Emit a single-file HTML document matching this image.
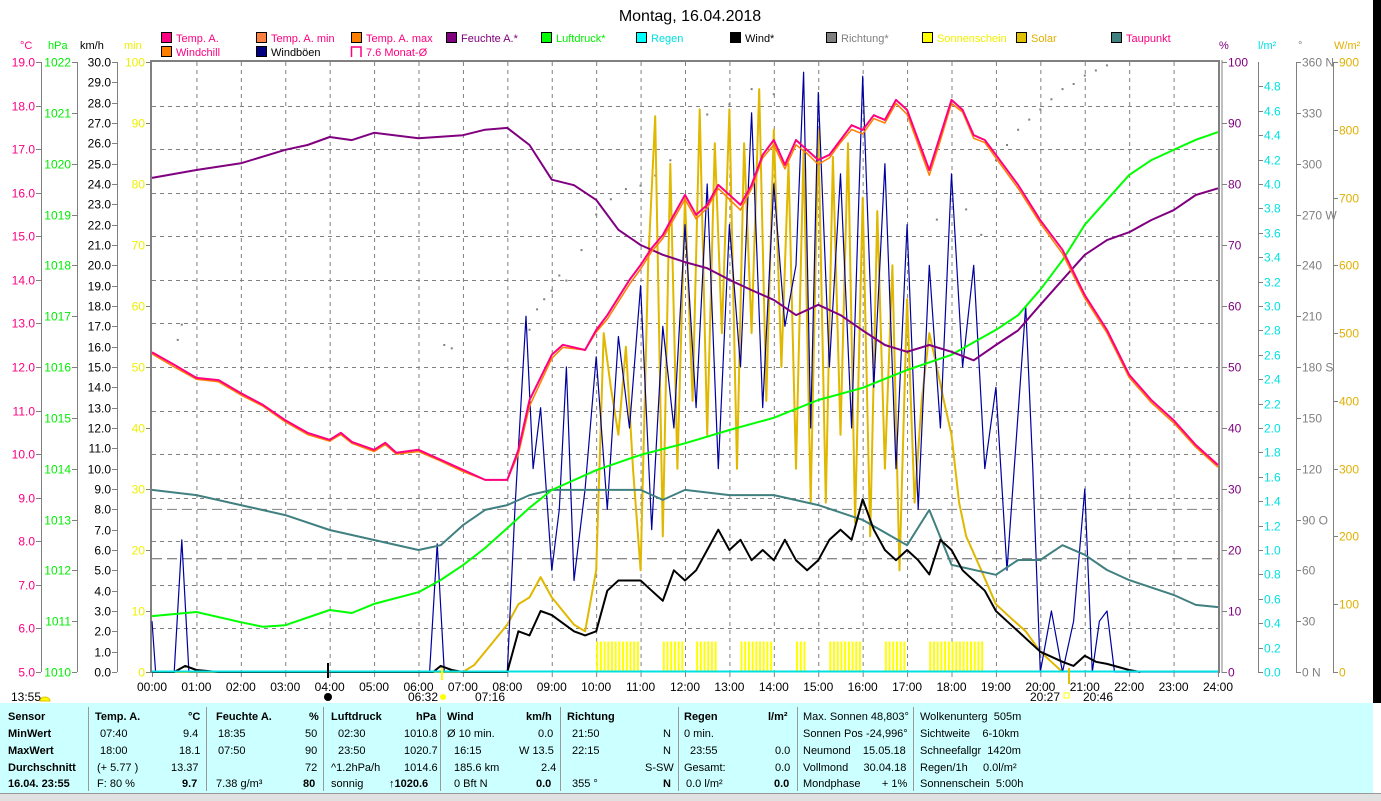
<!DOCTYPE html>
<html><head><meta charset="utf-8"><title>Montag, 16.04.2018</title>
<style>
html,body{margin:0;padding:0;background:#fff;}
body{width:1381px;height:800px;overflow:hidden;position:relative;font-family:"Liberation Sans",sans-serif;}
svg{position:absolute;left:0;top:0;}
#panel{position:absolute;left:0;top:703px;width:1373px;height:90px;background:#ccffff;font-size:11px;color:#000;}
#panel div{position:absolute;white-space:nowrap;}
.b{font-weight:bold;}
.sep{width:1px;background:#999;top:4px;height:84px;}
#bottomstrip{position:absolute;left:0;top:793px;width:1381px;height:7px;background:#e0e0e0;border-top:1px solid #999;}
#rbar{position:absolute;left:1373px;top:0;width:8px;height:703px;background:#000;}
</style></head>
<body>
<svg id="chart" width="1381" height="703" font-family="Liberation Sans, sans-serif" font-size="12"></svg>
<div id="rbar"></div>
<div id="panel">
 <div class="b" style="left:8px;top:8px">Sensor</div>
 <div class="b" style="left:8px;top:25px">MinWert</div>
 <div class="b" style="left:8px;top:42px">MaxWert</div>
 <div class="b" style="left:8px;top:59px">Durchschnitt</div>
 <div class="b" style="left:8px;top:75px">16.04. 23:55</div>
 <div class="sep" style="left:88px"></div>
 <div class="b" style="left:95px;top:8px">Temp. A.</div>
 <div class="b" style="left:188px;top:8px">°C</div>
 <div style="left:100px;top:25px">07:40</div><div style="left:183px;top:25px">9.4</div>
 <div style="left:100px;top:42px">18:00</div><div style="left:179px;top:42px">18.1</div>
 <div style="left:97px;top:59px">(+ 5.77 )</div><div style="left:171px;top:59px">13.37</div>
 <div style="left:97px;top:75px">F: 80 %</div><div class="b" style="left:182px;top:75px">9.7</div>
 <div class="sep" style="left:206px"></div>
 <div class="b" style="left:216px;top:8px">Feuchte A.</div>
 <div class="b" style="left:309px;top:8px">%</div>
 <div style="left:218px;top:25px">18:35</div><div style="left:305px;top:25px">50</div>
 <div style="left:218px;top:42px">07:50</div><div style="left:305px;top:42px">90</div>
 <div style="left:305px;top:59px">72</div>
 <div style="left:216px;top:75px">7.38 g/m³</div><div class="b" style="left:303px;top:75px">80</div>
 <div class="sep" style="left:323px"></div>
 <div class="b" style="left:331px;top:8px">Luftdruck</div>
 <div class="b" style="left:416px;top:8px">hPa</div>
 <div style="left:338px;top:25px">02:30</div><div style="left:404px;top:25px">1010.8</div>
 <div style="left:338px;top:42px">23:50</div><div style="left:404px;top:42px">1020.7</div>
 <div style="left:331px;top:59px">^1.2hPa/h</div><div style="left:404px;top:59px">1014.6</div>
 <div style="left:331px;top:75px">sonnig</div><div class="b" style="left:389px;top:75px">&#8593;1020.6</div>
 <div class="sep" style="left:440px"></div>
 <div class="b" style="left:447px;top:8px">Wind</div>
 <div class="b" style="left:526px;top:8px">km/h</div>
 <div style="left:447px;top:25px">Ø 10 min.</div><div style="left:538px;top:25px">0.0</div>
 <div style="left:454px;top:42px">16:15</div><div style="left:519px;top:42px">W 13.5</div>
 <div style="left:454px;top:59px">185.6 km</div><div style="left:541px;top:59px">2.4</div>
 <div style="left:454px;top:75px">0 Bft N</div><div class="b" style="left:536px;top:75px">0.0</div>
 <div class="sep" style="left:560px"></div>
 <div class="b" style="left:567px;top:8px">Richtung</div>
 <div style="left:572px;top:25px">21:50</div><div style="left:663px;top:25px">N</div>
 <div style="left:572px;top:42px">22:15</div><div style="left:663px;top:42px">N</div>
 <div style="left:645px;top:59px">S-SW</div>
 <div style="left:572px;top:75px">355 °</div><div class="b" style="left:663px;top:75px">N</div>
 <div class="sep" style="left:678px"></div>
 <div class="b" style="left:684px;top:8px">Regen</div>
 <div class="b" style="left:768px;top:8px">l/m²</div>
 <div style="left:684px;top:25px">0 min.</div>
 <div style="left:690px;top:42px">23:55</div><div style="left:775px;top:42px">0.0</div>
 <div style="left:684px;top:59px">Gesamt:</div><div style="left:775px;top:59px">0.0</div>
 <div style="left:686px;top:75px">0.0 l/m²</div><div class="b" style="left:774px;top:75px">0.0</div>
 <div class="sep" style="left:797px"></div>
 <div style="left:803px;top:8px">Max. Sonnen 48,803°</div>
 <div style="left:803px;top:25px">Sonnen Pos -24,996°</div>
 <div style="left:803px;top:42px">Neumond &nbsp;&nbsp;&nbsp;15.05.18</div>
 <div style="left:803px;top:59px">Vollmond &nbsp;&nbsp;&nbsp;&nbsp;30.04.18</div>
 <div style="left:803px;top:75px">Mondphase &nbsp;&nbsp;&nbsp;&nbsp;&nbsp;&nbsp;+ 1%</div>
 <div class="sep" style="left:913px"></div>
 <div style="left:920px;top:8px">Wolkenunterg &nbsp;505m</div>
 <div style="left:920px;top:25px">Sichtweite &nbsp;&nbsp;&nbsp;6-10km</div>
 <div style="left:920px;top:42px">Schneefallgr &nbsp;1420m</div>
 <div style="left:920px;top:59px">Regen/1h &nbsp;&nbsp;&nbsp;&nbsp;0.0l/m²</div>
 <div style="left:920px;top:75px">Sonnenschein &nbsp;5:00h</div>
</div>
<div id="bottomstrip"></div>
<script>
// ---- data ----
const tempTimes=[0,0.5,1,1.5,2,2.5,3,3.5,4,4.25,4.5,5,5.25,5.5,6,6.5,7,7.5,8,8.25,8.5,9,9.25,9.75,10,10.25,10.75,11,11.25,11.5,11.75,12,12.25,12.5,12.75,13,13.25,13.5,13.75,14,14.25,14.5,14.75,15,15.25,15.5,15.75,16,16.25,16.5,16.75,17,17.25,17.5,17.75,18,18.25,18.5,18.75,19,19.5,20,20.5,21,21.5,22,22.5,23,23.5,24];
const tempVals=[12.34,12.05,11.75,11.70,11.40,11.13,10.78,10.49,10.33,10.49,10.28,10.10,10.26,10.03,10.10,9.87,9.64,9.41,9.41,10.10,11.24,12.28,12.51,12.39,12.85,13.19,14.0,14.34,14.73,15.03,15.49,15.95,15.49,15.72,16.18,15.95,15.72,16.18,16.87,17.21,16.64,17.21,16.98,16.75,16.87,17.21,17.55,17.44,17.78,17.67,18.13,17.90,17.21,16.52,17.32,18.13,17.90,17.32,17.21,16.87,16.18,15.37,14.69,13.65,12.85,11.82,11.24,10.78,10.21,9.75];
const chillVals=[12.30,12.00,11.72,11.66,11.36,11.10,10.74,10.45,10.30,10.45,10.25,10.06,10.22,10.00,10.06,9.84,9.60,9.41,9.41,10.00,11.10,12.20,12.45,12.39,12.80,13.10,13.90,14.25,14.65,14.95,15.40,15.85,15.40,15.65,16.10,15.85,15.60,16.10,16.80,17.10,16.55,17.10,16.90,16.65,16.80,17.15,17.45,17.35,17.70,17.60,18.05,17.80,17.10,16.40,17.20,18.05,17.85,17.25,17.15,16.80,16.10,15.30,14.60,13.58,12.78,11.76,11.18,10.72,10.16,9.70];
const dewTimes=[0,1,2,3,4,5,6,6.5,7,7.5,8,8.5,9,10,11,11.5,12,13,14,15,16,17,17.5,18,19,19.5,20,20.5,21,21.5,22,23,23.5,24];
const dewVals=[9.18,9.06,8.83,8.6,8.26,8.03,7.8,7.91,8.37,8.72,8.83,9.06,9.18,9.18,9.18,8.95,9.18,9.06,9.06,8.83,8.49,7.91,8.72,7.46,7.23,7.57,7.57,7.91,7.69,7.34,7.11,6.77,6.54,6.49];
const humTimes=[0,1,2,3,3.5,4,4.5,5,6,7,7.5,8,8.5,9,9.5,10,10.5,11,11.5,12,12.5,13,13.5,14,14.5,15,15.5,16,16.5,17,17.5,18,18.5,19,19.5,20,20.5,21,21.5,22,22.5,23,23.5,24];
const humVals=[81,82.3,83.4,85.6,86.4,87.7,87.2,88.4,87.5,88,88.9,89.2,86.4,80.7,79.8,77.4,72.5,70,68.4,67.2,66.2,64.3,62.6,61,58.5,60.2,58.5,56,53.6,52.5,53.6,52.5,51.1,53.6,56,60.2,64.3,68.4,70.8,72.1,74.1,75.7,78.2,79.3];
const presTimes=[0,1,2,2.5,3,4,4.5,5,6,6.5,7,7.5,8,8.5,9,10,11,12,13,14,15,16,17,18,19,19.5,20,20.5,21,21.5,22,22.5,23,23.5,24];
const presVals=[1011.1,1011.18,1010.98,1010.89,1010.92,1011.22,1011.16,1011.34,1011.57,1011.81,1012.1,1012.44,1012.83,1013.23,1013.58,1013.97,1014.27,1014.5,1014.76,1015.0,1015.35,1015.59,1015.94,1016.24,1016.73,1017.02,1017.52,1018.1,1018.8,1019.29,1019.78,1020.07,1020.27,1020.47,1020.62];
const windTimes=[0,0.5,0.75,1,1.5,6.33,6.5,6.75,7,8,8.25,8.5,8.75,9,9.5,9.75,10,10.25,10.5,11,11.25,11.5,11.75,12,12.25,12.5,12.75,13,13.25,13.5,13.75,14,14.25,14.5,14.75,15,15.25,15.5,15.75,16,16.25,16.5,16.75,17,17.25,17.5,17.75,18,18.25,18.5,18.75,19,19.25,19.5,20,20.5,20.75,21,21.25,21.5,22,22.25];
const windVals=[0,0,0.3,0.1,0,0,0.3,0.1,0,0,2.0,1.8,3.0,2.8,2.0,1.8,2.0,4.0,4.5,4.5,4.0,3.5,5.0,4.5,5.0,6.0,7.0,6.0,6.5,5.5,6.0,5.5,6.5,5.5,5.0,5.5,6.5,7.0,6.5,8.5,7.0,6.0,5.5,6.0,5.5,4.8,6.5,6.0,5.0,4.5,4.0,3.0,2.5,2.0,1.0,0.5,0.3,0.8,0.5,0.4,0.1,0];
const gustTimes=[0,0.08,0.5,0.67,0.83,6.25,6.42,6.58,8.0,8.17,8.42,8.58,8.75,9.0,9.17,9.33,9.5,9.75,10.0,10.25,10.5,10.75,11.0,11.25,11.5,11.75,12.0,12.25,12.5,12.75,13.0,13.25,13.5,13.75,14.0,14.25,14.5,14.67,14.83,15.0,15.25,15.5,15.75,16.0,16.25,16.5,16.75,17.0,17.25,17.5,17.75,18.0,18.25,18.5,18.75,19.0,19.25,19.67,19.83,20.0,20.25,20.5,20.75,21.0,21.17,21.33,21.5,21.67,24];
const gustVals=[2.5,0,0,6.5,0,0,6.3,0,0,8,17.5,10,13,5,8,15,4.5,9,15.5,8,16.5,12,19,7,17,12,22,13,24,10,22,15,27.5,13,24,17,20,29.5,12,28.5,15,24.5,12,29.3,14,25,10,22,8,20,12,24.5,15,20,10,14,5,18,10,0,3,0,2.5,9,0,2.5,3,0,0];
const solarTimes=[0,7,7.25,7.5,8,8.25,8.5,8.75,9,9.5,9.75,10,10.17,10.33,10.5,10.67,10.83,11,11.17,11.33,11.5,11.67,11.83,12,12.17,12.33,12.5,12.67,12.83,13,13.17,13.33,13.5,13.67,13.83,14,14.17,14.33,14.5,14.67,14.83,15,15.17,15.33,15.5,15.67,15.83,16,16.17,16.33,16.5,16.67,16.83,17,17.17,17.33,17.5,17.67,17.83,18,18.17,18.33,18.67,19,19.33,19.67,20,20.33,20.5];
const solarVals=[0,0,10,30,70,100,110,140,110,70,60,150,500,420,350,480,300,150,600,820,200,750,300,700,400,830,350,780,500,830,300,780,500,860,400,800,450,750,300,770,250,800,250,760,350,780,220,700,200,680,300,600,150,550,250,400,500,450,400,350,250,200,150,100,80,60,30,10,0];
const sunStart=[10.0,11.5,12.25,13.25,14.5,15.25,16.5,17.5];
const sunEnd=[11.0,12.0,12.75,14.0,14.75,16.0,17.0,18.75];
const dirTimes=[0.58,0.67,6.58,6.75,8.5,8.67,8.83,9.0,9.17,9.33,9.67,10.0,10.33,10.67,11.0,11.33,11.67,12.0,12.5,13.0,13.5,14.0,17.67,18.0,18.33,18.67,19.0,19.25,19.5,19.75,20.0,20.25,20.5,20.75,21.0,21.25,21.5];
const dirVals=[196,205,193,191,202,214,220,225,234,231,249,270,279,285,287,293,302,314,329,335,344,341,267,282,273,258,302,311,320,326,332,338,344,347,352,355,358];
const degC=[5,6,7,8,9,10,11,12,13,14,15,16,17,18,19];
const hpaTicks=[1010,1011,1012,1013,1014,1015,1016,1017,1018,1019,1020,1021,1022];
const pctTicks=[0,10,20,30,40,50,60,70,80,90,100];
const degTicks=["0 N","30","60","90 O","120","150","180 S","210","240","270 W","300","330","360 N"];
const hourLabels=["00:00","01:00","02:00","03:00","04:00","05:00","06:00","07:00","08:00","09:00","10:00","11:00","12:00","13:00","14:00","15:00","16:00","17:00","18:00","19:00","20:00","21:00","22:00","23:00","24:00"];
const monthAvg=7.6, presAvgLine=1013.2;

// ---- scales ----
const X0=152,X1=1218,Y0=672,YT=62;
const X=h=>X0+h*(X1-X0)/24;
const yT=t=>Y0-(t-5)*(Y0-YT)/14;
const yP=p=>Y0-(p-1010)*(Y0-YT)/12;
const yK=v=>Y0-v*(Y0-YT)/30;
const yH=v=>Y0-v*(Y0-YT)/100;
const yR=v=>Y0-v*(Y0-YT)/5;
const yS=v=>Y0-v*(Y0-YT)/900;
const yD=v=>Y0-v*(Y0-YT)/360;

const svg=document.getElementById('chart');
const NS='http://www.w3.org/2000/svg';
function mk(tag,attrs,parent){const e=document.createElementNS(NS,tag);for(const k in attrs)e.setAttribute(k,attrs[k]);(parent||svg).appendChild(e);return e;}
function txt(x,y,s,fill,anchor,parent,size){const e=mk('text',{x:x,y:y,fill:fill,'text-anchor':anchor||'start','font-size':size||12},parent);e.textContent=s;return e;}

// title
let t=txt(690,21,'Montag, 16.04.2018','#000','middle',svg,16);



// legend
const legItems=[
 [161,38,'#ff0080','#ff0080','Temp. A.'],[256,38,'#ff8040','#ff0080','Temp. A. min'],[351,38,'#ff8000','#ff0080','Temp. A. max'],
 [446,38,'#800080','#800080','Feuchte A.*'],[541,38,'#00ff00','#00ee00','Luftdruck*'],[636,38,'#00ffff','#00e0e0','Regen'],
 [730,38,'#000000','#000','Wind*'],[826,38,'#808080','#808080','Richtung*'],[922,38,'#ffff00','#f0f000','Sonnenschein'],
 [1016,38,'#e0c000','#e0b000','Solar'],[1111,38,'#408080','#ff0080','Taupunkt'],
 [161,52,'#ff8000','#ff0080','Windchill'],[256,52,'#000080','#000','Windböen'],[351,52,'none','#ff0080','7.6 Monat-Ø']];
legItems.forEach(it=>{
 const g=mk('g',{});
 
 
 if(it[2]==='none') mk('path',{d:`M${it[0]+0.5} ${it[1]+5} V${it[1]-5} H${it[0]+10} V${it[1]+5}`,stroke:'#ff0080','stroke-width':1.5,fill:'none'},g);
 else mk('rect',{x:it[0]+0.5,y:it[1]-5.5,width:10,height:10,fill:it[2],stroke:'#000','stroke-width':1},g);
 txt(it[0]+15,it[1]+4,it[4],it[3],'start',g,11);
});

// unit headers
[[20,'°C','#ff0080'],[48,'hPa','#00ee00'],[80,'km/h','#000'],[124,'min','#f0f000'],[1219,'%','#800080'],[1258,'l/m²','#00e0e0'],[1298,'°','#808080'],[1334,'W/m²','#e0b000']].forEach(u=>{
 const e=txt(u[0],49,u[1],u[2],'start',svg,11);
 
 
});

// grid
const grid=mk('g',{stroke:'#808080','stroke-width':1,'stroke-dasharray':'4,4'});


for(let h=1;h<24;h++) mk('line',{x1:X(h)+0.5,x2:X(h)+0.5,y1:YT,y2:Y0},grid);
degC.forEach(c=>{if(c>5&&c<19) mk('line',{x1:X0,x2:X1,y1:Math.round(yT(c))+0.5,y2:Math.round(yT(c))+0.5},grid);});

// average lines
let l=mk('line',{x1:X0,x2:X1,y1:yP(presAvgLine),y2:yP(presAvgLine),stroke:'#808080','stroke-dasharray':'10,5'});


l=mk('line',{x1:X0,x2:X1,y1:yT(monthAvg),y2:yT(monthAvg),stroke:'#606060','stroke-dasharray':'10,5'});



// axes
function vaxis(x,ticks,yf,fmt,color,name,lab,side){
 const g=mk('g',{});
 
 
 mk('line',{x1:x+0.5,x2:x+0.5,y1:YT,y2:Y0,stroke:'#808080'},g);
 ticks.forEach((v,i)=>{
  const y=Math.round(yf(v))+0.5;
  mk('line',{x1:side<0?x-5:x,x2:side<0?x:x+5,y1:y,y2:y,stroke:'#808080'},g);
  txt(side<0?x-6:x+6,y+4,fmt(v,i),color,side<0?'end':'start',g);
 });
}
vaxis(41,degC,yT,v=>v.toFixed(1),'#ff0080','celsius-axis',0,-1);
vaxis(77,hpaTicks,yP,v=>String(v),'#00ee00','pressure-axis',0,-1);
const kmh=[];for(let i=0;i<=30;i++)kmh.push(i);
vaxis(117,kmh,yK,v=>v.toFixed(1),'#000','wind-speed-axis',0,-1);
const mins=[0,10,20,30,40,50,60,70,80,90,100];
(function(){const g=mk('g',{});
 mins.forEach(v=>{const y=Math.round(yH(v))+0.5;mk('line',{x1:146,x2:151,y1:y,y2:y,stroke:'#808080'},g);txt(145,y+4,String(v),'#f0f000','end',g);});})();
(function(){const g=mk('g',{});
 pctTicks.forEach(v=>{const y=Math.round(yH(v))+0.5;mk('line',{x1:1222,x2:1227,y1:y,y2:y,stroke:'#808080'},g);txt(1228,y+4,String(v),'#800080','start',g);});})();
const rainT=[];for(let i=0;i<=24;i++)rainT.push(i/5);
vaxis(1258,rainT,yR,v=>v.toFixed(1),'#00e0e0','rain-axis',0,1);
const dirT=[0,30,60,90,120,150,180,210,240,270,300,330,360];
vaxis(1296,dirT,yD,(v,i)=>degTicks[i],'#808080','direction-axis',0,1);
const solT=[0,100,200,300,400,500,600,700,800,900];
vaxis(1333,solT,yS,v=>String(v),'#e0b000','solar-axis',0,1);

// plot frame
mk('line',{x1:X0-1,x2:X0-1,y1:YT-1,y2:Y0+1,stroke:'#808080','stroke-width':2});
mk('line',{x1:X0-2,x2:X1+2,y1:YT-1,y2:YT-1,stroke:'#808080','stroke-width':2});
mk('line',{x1:X1+1,x2:X1+1,y1:YT-2,y2:Y0+1,stroke:'#808080','stroke-width':2});
mk('line',{x1:X1+4,x2:X1+4,y1:YT-2,y2:Y0+1,stroke:'#808080','stroke-width':1});

// x labels
hourLabels.forEach((s,i)=>{
 mk('line',{x1:X(i)+0.5,x2:X(i)+0.5,y1:Y0,y2:Y0+5,stroke:'#808080'});
 const e=txt(X(i),691,s,'#000','middle');
 
 
});

function poly(times,vals,yf,color,w,name){
 const pts=times.map((h,i)=>X(h).toFixed(1)+','+yf(vals[i]).toFixed(1)).join(' ');
 const p=mk('polyline',{points:pts,fill:'none',stroke:color,'stroke-width':w,'stroke-linejoin':'round'});
 
 
}
(function(){const g=mk('g',{stroke:'#ffff00','stroke-width':2});
 
 
 sunStart.forEach((s,i)=>{for(let h=s;h<sunEnd[i]-0.01;h+=1/12){mk('line',{x1:X(h)+1,x2:X(h)+1,y1:yH(5),y2:Y0},g);}});})();
(function(){const g=mk('g',{fill:'#808080'});
 
 
 dirTimes.forEach((h,i)=>mk('rect',{x:X(h)-1,y:yD(dirVals[i])-1,width:2,height:2},g));})();
poly(solarTimes,solarVals,yS,'#e0b800',2,'solar-line');
poly(gustTimes,gustVals,yK,'#0000a0',1.2,'wind-gust-line');
poly(dewTimes,dewVals,yT,'#408080',2,'dewpoint-line');
poly(presTimes,presVals,yP,'#00ff00',2,'pressure-line');
poly(humTimes,humVals,yH,'#800080',2,'humidity-line');
poly(tempTimes,chillVals,yT,'#ff8000',1.5,'windchill-line');
poly(tempTimes,tempVals,yT,'#ff0080',2,'temperature-line');
poly(windTimes,windVals,yK,'#000',2,'wind-line');
l=mk('line',{x1:X0,x2:X1,y1:Y0-0.5,y2:Y0-0.5,stroke:'#00e0e0','stroke-width':2});



// sun/moon markers
txt(11,701,'13:55','#000','start');
mk('path',{d:'M40 701 A5 4 0 0 1 50 701 Z',fill:'#ffff00',stroke:'#e0c000'});
mk('circle',{cx:328,cy:697,r:4,fill:'#000'});
mk('line',{x1:328,x2:328,y1:663,y2:678,stroke:'#000','stroke-width':2});
txt(408,701,'06:32','#000','start');
mk('circle',{cx:443,cy:697,r:3,fill:'#ffff00'});
mk('line',{x1:442,x2:442,y1:668,y2:680,stroke:'#ffff00','stroke-width':2});
txt(475,701,'07:16','#000','start');
txt(1030,701,'20:27','#000','start');
mk('rect',{x:1064,y:693,width:5,height:5,fill:'none',stroke:'#ffff00'});
txt(1083,701,'20:46','#000','start');
mk('line',{x1:1069,x2:1069,y1:668,y2:684,stroke:'#e0c000','stroke-width':2});
</script>
</body></html>
